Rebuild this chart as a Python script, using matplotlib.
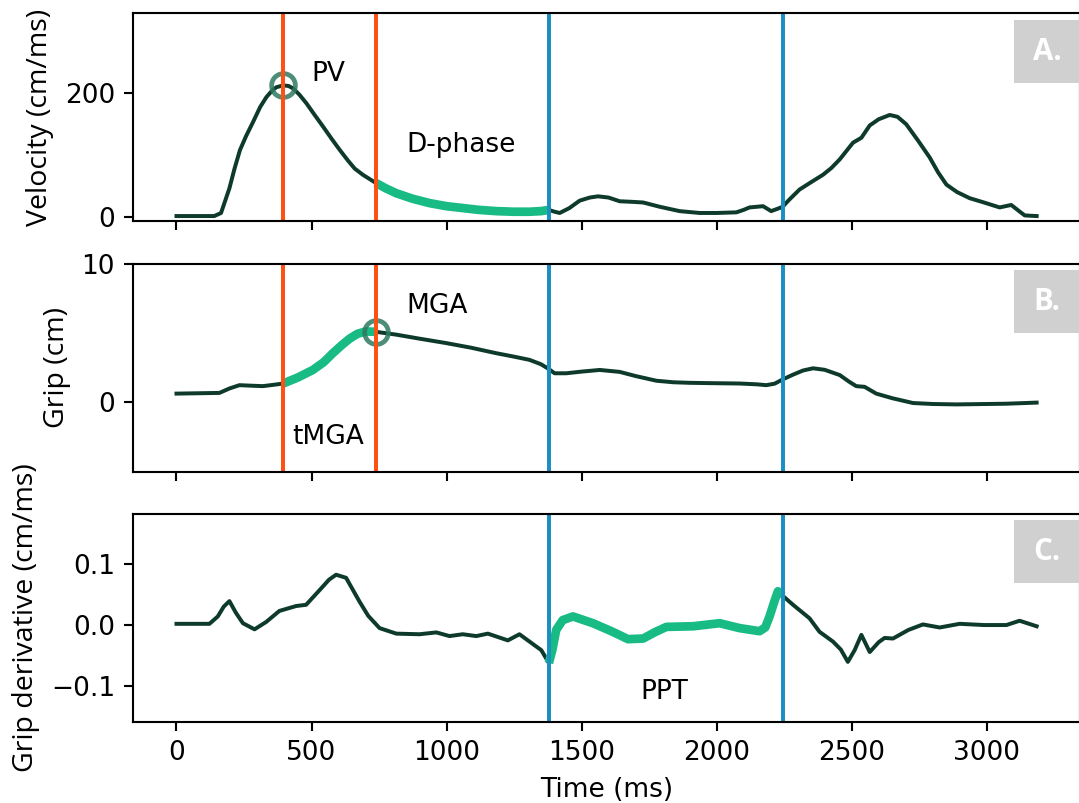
import numpy as np
import matplotlib
matplotlib.use('Agg')
import matplotlib.pyplot as plt
from matplotlib.patches import Rectangle

# velocity trace (ms, cm/ms)
vel_t = [0, 140, 165, 196, 215, 235, 258, 284, 310, 333, 355, 370, 395, 415, 432, 455, 481, 510, 543,
         575, 605, 635, 660, 690, 737, 775, 814, 875, 937, 1000, 1060, 1120, 1184, 1250, 1307, 1350, 1379,
         1400, 1419, 1455, 1493, 1530, 1561, 1600, 1641, 1690, 1728, 1790, 1863, 1937, 2000, 2073, 2100,
         2122, 2172, 2202, 2233, 2244, 2270, 2307, 2350, 2394, 2425, 2456, 2505, 2536, 2567, 2600, 2641,
         2670, 2702, 2745, 2789, 2820, 2851, 2890, 2937, 2990, 3048, 3091, 3120, 3141, 3185]
vel = [1, 1, 6, 46, 78, 108, 131, 154, 178, 194, 205, 210, 213, 212, 208, 198, 184, 166, 146,
       126, 108, 91, 78, 68, 55, 46, 38, 29, 22, 17, 14, 11, 9, 8, 8, 9, 11,
       8, 6, 14, 26, 31, 33, 31, 25, 24, 23, 16, 9, 6, 6, 7, 11,
       15, 17, 9, 14, 16, 28, 44, 56, 68, 79, 93, 120, 128, 148, 158, 165,
       162, 150, 124, 96, 72, 52, 40, 30, 23, 15, 19, 9, 2, 1]

# grip aperture (cm)
grip_t = [0, 159, 196, 233, 280, 320, 369, 395, 450, 505, 545, 579, 610, 641, 670, 700, 737, 814, 900, 999,
          1090, 1184, 1250, 1307, 1350, 1379, 1400, 1443, 1500, 1567, 1641, 1700, 1777, 1840, 1900, 2000,
          2085, 2150, 2184, 2215, 2244, 2283, 2320, 2357, 2400, 2456, 2490, 2517, 2548, 2591, 2650, 2727,
          2800, 2888, 3000, 3073, 3185]
grip = [0.63, 0.68, 1.0, 1.24, 1.2, 1.17, 1.29, 1.36, 1.8, 2.34, 2.9, 3.55, 4.1, 4.6, 4.95, 5.12, 5.1, 4.89, 4.6, 4.28,
        3.95, 3.55, 3.3, 3.07, 2.75, 2.4, 2.1, 2.1, 2.22, 2.34, 2.2, 1.9, 1.56, 1.45, 1.41, 1.38,
        1.36, 1.3, 1.24, 1.35, 1.65, 2.0, 2.3, 2.46, 2.35, 1.97, 1.5, 1.17, 1.12, 0.63, 0.3, -0.05,
        -0.12, -0.15, -0.12, -0.1, -0.02]

# grip derivative (cm/ms)
der_t = [0, 122, 153, 175, 196, 220, 246, 289, 332, 381, 443, 480, 530, 565, 591, 628, 678, 710, 752, 814,
         900, 962, 1011, 1060, 1110, 1153, 1227, 1270, 1326, 1351, 1379, 1392, 1406, 1430, 1468, 1542,
         1610, 1672, 1728, 1770, 1814, 1913, 2011, 2085, 2159, 2180, 2196, 2215, 2227, 2244, 2283, 2344,
         2381, 2431, 2460, 2486, 2511, 2536, 2567, 2600, 2622, 2653, 2710, 2764, 2826, 2900, 2990, 3073,
         3122, 3185]
der = [0.002, 0.002, 0.014, 0.03, 0.039, 0.02, 0.003, -0.007, 0.005, 0.023, 0.031, 0.033, 0.057, 0.074, 0.082, 0.077, 0.038, 0.015, -0.005, -0.014,
       -0.015, -0.012, -0.018, -0.015, -0.018, -0.014, -0.025, -0.015, -0.033, -0.041, -0.062, -0.04, -0.008, 0.008, 0.014, 0.003,
       -0.01, -0.023, -0.022, -0.012, -0.003, -0.002, 0.003, -0.005, -0.01, -0.004, 0.014, 0.04, 0.055, 0.048, 0.033, 0.011,
       -0.011, -0.027, -0.04, -0.06, -0.041, -0.016, -0.044, -0.028, -0.021, -0.022, -0.008, 0.001, -0.004, 0.002, 0.0, 0.0,
       0.007, -0.002]

# events (ms)
t_pv = 395
t_mga = 737
t_ppt_on = 1379
t_ppt_off = 2244
pv_val = 213
mga_val = 5.05

dark = '#0e3a2c'
green = '#19bb85'
orange = '#ff5012'
blue = '#1b8fc5'
ring = '#2f7a62'

vel_t, vel = np.array(vel_t), np.array(vel)
grip_t, grip = np.array(grip_t), np.array(grip)
der_t, der = np.array(der_t), np.array(der)

DPI = 190
fig = plt.figure(figsize=(1079 / DPI, 803 / DPI), dpi=DPI)
ax1 = fig.add_axes([0.1237, 0.7248, 0.8769, 0.2587])
ax2 = fig.add_axes([0.1237, 0.4128, 0.8769, 0.2585], sharex=ax1)
ax3 = fig.add_axes([0.1237, 0.1009, 0.8769, 0.2590], sharex=ax1)

lab_font = dict(family='Open Sans', fontsize=10.8)
line_kw = dict(color=dark, lw=1.5, solid_joinstyle='round')
hi_kw = dict(color=green, lw=3.3, solid_capstyle='butt', solid_joinstyle='round')
ring_kw = dict(ms=9, mfc='none', mec=ring, mew=1.8, alpha=0.85)

# A. velocity
ax1.plot(vel_t, vel, **line_kw)
m = (vel_t >= t_mga) & (vel_t <= t_ppt_on)
ax1.plot(vel_t[m], vel[m], **hi_kw)
ax1.plot([t_pv], [pv_val], 'o', **ring_kw)
ax1.axvline(t_pv, color=orange)
ax1.axvline(t_mga, color=orange)
ax1.axvline(t_ppt_on, color=blue)
ax1.axvline(t_ppt_off, color=blue)
ax1.text(561, 220.5, 'PV', ha='center', va='baseline')
ax1.text(1052, 105, 'D-phase', ha='center', va='baseline')
ax1.set_ylim(-7, 330)
ax1.set_yticks([0, 200])
ax1.set_ylabel('Velocity (cm/ms)', **lab_font)
ax1.tick_params(labelbottom=False)

# B. grip
ax2.plot(grip_t, grip, **line_kw)
m = (grip_t >= t_pv) & (grip_t <= t_mga)
ax2.plot(grip_t[m], grip[m], **hi_kw)
ax2.plot([t_mga], [mga_val], 'o', **ring_kw)
ax2.axvline(t_pv, color=orange)
ax2.axvline(t_mga, color=orange)
ax2.axvline(t_ppt_on, color=blue)
ax2.axvline(t_ppt_off, color=blue)
ax2.text(965, 6.46, 'MGA', ha='center', va='baseline')
ax2.text(561, -3.02, 'tMGA', ha='center', va='baseline')
ax2.set_ylim(-5, 10)
ax2.set_yticks([0, 10])
ax2.set_ylabel('Grip (cm)', **lab_font)
ax2.tick_params(labelbottom=False)

# C. grip derivative
ax3.plot(der_t, der, **line_kw)
m = (der_t >= t_ppt_on) & (der_t <= t_ppt_off)
ax3.plot(der_t[m], der[m], **hi_kw)
ax3.axvline(t_ppt_on, color=blue)
ax3.axvline(t_ppt_off, color=blue)
ax3.text(1806, -0.1207, 'PPT', ha='center', va='baseline')
ax3.set_ylim(-0.158, 0.181)
ax3.set_yticks([-0.1, 0.0, 0.1])
ax3.set_ylabel('Grip derivative (cm/ms)', **lab_font)
ax3.set_xlabel('Time (ms)')
ax3.set_xticks([0, 500, 1000, 1500, 2000, 2500, 3000])

# panel tags
for ax, tag in [(ax1, 'A.'), (ax2, 'B.'), (ax3, 'C.')]:
    ax.add_patch(Rectangle((0.931, 0.666), 0.075, 0.303, transform=ax.transAxes,
                           facecolor='#d0d0d0', edgecolor='none', clip_on=False, zorder=5))
    ax.text(0.9655, 0.815, tag, transform=ax.transAxes, ha='center', va='center',
            color='white', fontweight='bold', family='Open Sans', fontsize=11.2, zorder=6)

fig.savefig('out.png', dpi=DPI)
